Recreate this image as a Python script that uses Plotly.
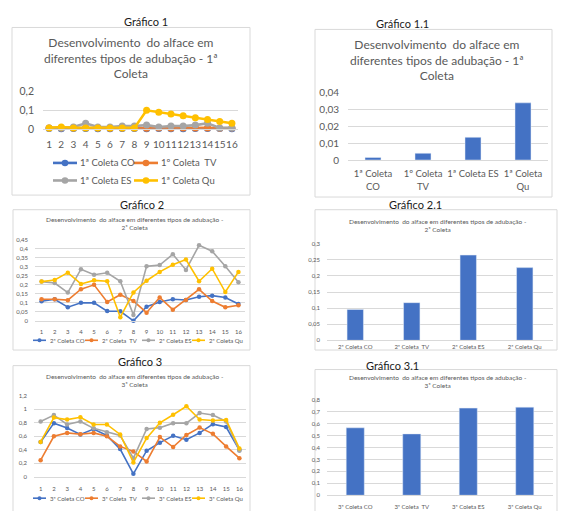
import plotly.graph_objects as go

W, H = 565, 511

# ---------------- data ----------------
points = [str(i) for i in range(1, 17)]

c1_co = [0.002, 0.001, 0.002, 0.002, 0.001, 0.001, 0.002, 0.002, 0.001, 0.002, 0.001, 0.0, 0.002, 0.002, 0.002, 0.001]
c1_tv = [0.004, 0.005, 0.004, 0.006, 0.004, 0.003, 0.004, 0.004, 0.003, 0.004, 0.003, 0.004, 0.005, 0.005, 0.003, 0.004]
c1_es = [0.005, 0.005, 0.01, 0.03, 0.01, 0.01, 0.015, 0.015, 0.02, 0.01, 0.015, 0.015, 0.02, 0.03, 0.005, 0.005]
c1_qu = [0.005, 0.01, 0.005, 0.005, 0.005, 0.005, 0.005, 0.005, 0.1, 0.09, 0.08, 0.07, 0.06, 0.05, 0.04, 0.03]

c2_co = [0.109, 0.12, 0.076, 0.1, 0.1, 0.054, 0.053, 0.0, 0.078, 0.105, 0.12, 0.116, 0.134, 0.14, 0.13, 0.094]
c2_tv = [0.12, 0.12, 0.115, 0.176, 0.2, 0.105, 0.145, 0.11, 0.045, 0.13, 0.062, 0.116, 0.175, 0.11, 0.075, 0.087]
c2_es = [0.218, 0.21, 0.157, 0.287, 0.256, 0.267, 0.22, 0.033, 0.303, 0.31, 0.37, 0.283, 0.42, 0.387, 0.303, 0.214]
c2_qu = [0.218, 0.227, 0.268, 0.205, 0.225, 0.22, 0.02, 0.158, 0.223, 0.272, 0.312, 0.341, 0.22, 0.29, 0.16, 0.272]

c3_co = [0.516, 0.795, 0.723, 0.627, 0.708, 0.612, 0.41, 0.043, 0.386, 0.506, 0.607, 0.55, 0.65, 0.78, 0.737, 0.395]
c3_tv = [0.246, 0.6, 0.65, 0.63, 0.65, 0.6, 0.45, 0.376, 0.227, 0.588, 0.44, 0.62, 0.73, 0.636, 0.45, 0.275]
c3_es = [0.82, 0.915, 0.776, 0.82, 0.718, 0.66, 0.612, 0.275, 0.708, 0.728, 0.795, 0.795, 0.945, 0.915, 0.82, 0.386]
c3_qu = [0.516, 0.877, 0.848, 0.882, 0.776, 0.776, 0.627, 0.212, 0.573, 0.8, 0.92, 1.046, 0.848, 0.834, 0.843, 0.42]

b1_labels = ["1ª Coleta<br>CO", "1º Coleta<br>TV", "1ª Coleta ES", "1ª Coleta<br>Qu"]
b1_values = [0.0015, 0.004, 0.0135, 0.034]
b2_labels = ["2ª Coleta CO", "2ª Coleta  TV", "2ª Coleta ES", "2ª Coleta Qu"]
b2_values = [0.096, 0.117, 0.265, 0.226]
b3_labels = ["3ª Coleta CO", "3ª Coleta  TV", "3ª Coleta ES", "3ª Coleta Qu"]
b3_values = [0.565, 0.514, 0.73, 0.738]

series1_names = ["1ª Coleta CO", "1º Coleta  TV", "1ª Coleta ES", "1ª Coleta Qu"]
series2_names = ["2ª Coleta CO", "2ª Coleta  TV", "2ª Coleta ES", "2ª Coleta Qu"]
series3_names = ["3ª Coleta CO", "3ª Coleta  TV", "3ª Coleta ES", "3ª Coleta Qu"]

colors = ["#4472C4", "#ED7D31", "#A5A5A5", "#FFC000"]
BAR = "#4472C4"
GRID = "#d9d9d9"
TXT = "#595959"
FONT = "Lato"


def fx(x):
    return x / W


def fy(y):
    return 1 - y / H


fig = go.Figure()

# ---------------- line charts ----------------
line_sets = [
    ("x", "y", [c1_co, c1_tv, c1_es, c1_qu], series1_names, 2.6, 7),
    ("x3", "y3", [c2_co, c2_tv, c2_es, c2_qu], series2_names, 1.6, 4.5),
    ("x5", "y5", [c3_co, c3_tv, c3_es, c3_qu], series3_names, 1.6, 4.5),
]
for xa, ya, sers, names, lw, ms in line_sets:
    for vals, name, col in zip(sers, names, colors):
        fig.add_trace(go.Scatter(
            x=points, y=vals, name=name, mode="lines+markers",
            line=dict(color=col, width=lw), marker=dict(color=col, size=ms),
            xaxis=xa, yaxis=ya, showlegend=False, cliponaxis=False))

# ---------------- bar charts ----------------
for xa, ya, labs, vals, wd in [("x2", "y2", b1_labels, b1_values, 0.32),
                               ("x4", "y4", b2_labels, b2_values, 0.29),
                               ("x6", "y6", b3_labels, b3_values, 0.32)]:
    fig.add_trace(go.Bar(x=labs, y=vals, marker_color=BAR, width=wd,
                         xaxis=xa, yaxis=ya, showlegend=False))

# ---------------- axes ----------------
# (x0, x1, ytop, ybottom) in pixels, y range, dtick, font sizes, x-label standoff
axes_specs = [
    (43, 238, 87, 125, [0, 0.2], 0.1, 10.5, 10, points, 6),
    (348, 548, 88, 157, [0, 0.04], 0.01, 10, 9.5, b1_labels, 5),
    (35, 245, 239, 322, [0, 0.45], 0.05, 6, 6, points, 5),
    (327, 553, 243, 342, [0, 0.3], 0.05, 6, 6, b2_labels, 1),
    (34, 246, 399, 482, [0, 1.2], 0.2, 6, 6, points, 6),
    (327, 553, 403, 501, [0, 0.8], 0.1, 6, 6, b3_labels, 6),
]
for i, (x0, x1, yt, yb, yr, dt, yfs, xfs, cats, so) in enumerate(axes_specs):
    n = "" if i == 0 else str(i + 1)
    fig.layout["xaxis" + n] = dict(
        domain=[fx(x0), fx(x1)], anchor="y" + n, type="category",
        categoryorder="array", categoryarray=cats,
        range=[-0.5, len(cats) - 0.5],
        tickmode="linear", tick0=0, dtick=1, tickangle=0,
        showgrid=False, showline=True, linecolor=GRID, linewidth=1,
        ticks="", tickfont=dict(family=FONT, size=xfs, color=TXT),
        ticklabelstandoff=so, fixedrange=True)
    fig.layout["yaxis" + n] = dict(
        domain=[fy(yb), fy(yt)], anchor="x" + n, range=yr, dtick=dt,
        showgrid=True, gridcolor=GRID, gridwidth=1, zeroline=False,
        showline=False, ticks="",
        tickfont=dict(family=FONT, size=yfs, color=TXT),
        ticklabelstandoff=8 if yfs > 8 else 6, fixedrange=True)

# ---------------- panel boxes ----------------
boxes = [(12, 21, 250, 193), (315, 23, 552, 195), (13, 208, 250, 352),
         (315, 208, 557, 352), (13, 368, 250, 520), (315, 372, 557, 520)]
shapes = []
for (a, b, c, d) in boxes:
    shapes.append(dict(type="rect", xref="paper", yref="paper",
                       x0=fx(a), x1=fx(c), y0=fy(d), y1=fy(b),
                       line=dict(color=GRID, width=1), fillcolor="rgba(0,0,0,0)",
                       layer="below"))

annotations = []


def text(x, y, s, size, color=TXT, xanchor="center"):
    annotations.append(dict(x=fx(x), y=fy(y), xref="paper", yref="paper",
                            text=s, showarrow=False, xanchor=xanchor,
                            yanchor="middle",
                            font=dict(family=FONT, size=size, color=color)))


# panel headings
HEAD = "#1a1a1a"
text(146, 15, "Gráfico 1", 11, HEAD)
text(402, 17, "Gráfico 1.1", 11, HEAD)
text(142, 203, "Gráfico 2", 11, HEAD)
text(415, 203, "Gráfico 2.1", 11, HEAD)
text(140, 364, "Gráfico 3", 11, HEAD)
text(393, 368, "Gráfico 3.1", 11, HEAD)

# chart titles
text(131, 52, "Desenvolvimento  do alface em<br>diferentes tipos de adubação - 1ª<br>Coleta", 12)
text(437, 54, "Desenvolvimento  do alface em<br>diferentes tipos de adubação - 1ª<br>Coleta", 12)
text(135, 222.5, "Desenvolvimento  do alface em diferentes tipos de adubação -<br>2ª Coleta", 6.5)
text(438, 224, "Desenvolvimento  do alface em diferentes tipos de adubação -<br>2ª Coleta", 6.5)
text(135, 383, "Desenvolvimento  do alface em diferentes tipos de adubação -<br>3ª Coleta", 6.5)
text(438, 384.5, "Desenvolvimento  do alface em diferentes tipos de adubação -<br>3ª Coleta", 6.5)


# legends (key line + marker + label)
def legend_item(x0, x1, y, col, label, lw, r, fs, tx):
    shapes.append(dict(type="line", xref="paper", yref="paper",
                       x0=fx(x0), x1=fx(x1), y0=fy(y), y1=fy(y),
                       line=dict(color=col, width=lw)))
    cx = (x0 + x1) / 2
    shapes.append(dict(type="circle", xref="paper", yref="paper",
                       x0=fx(cx - r), x1=fx(cx + r), y0=fy(y + r), y1=fy(y - r),
                       line=dict(color=col, width=0), fillcolor=col))
    text(tx, y, label, fs, xanchor="left")


leg1 = [(53, 77, 160, 78), (134, 158, 160, 159), (53, 77, 178, 78), (134, 158, 178, 159)]
for (a, b, y, t), col, nm in zip(leg1, colors, series1_names):
    legend_item(a, b, y, col, nm, 2.6, 3.3, 9.5, t)
leg_small = [(33, 46, 48), (85, 98, 100), (142, 155, 157), (192, 205, 207)]
for (a, b, t), col, nm in zip(leg_small, colors, series2_names):
    legend_item(a, b, 342, col, nm, 1.6, 2, 6, t)
for (a, b, t), col, nm in zip(leg_small, colors, series3_names):
    legend_item(a, b, 504, col, nm, 1.6, 2, 6, t)

fig.update_layout(
    width=W, height=H, margin=dict(l=0, r=0, t=0, b=0),
    paper_bgcolor="white", plot_bgcolor="white",
    separators=",.", showlegend=False,
    shapes=shapes, annotations=annotations,
    font=dict(family=FONT, color=TXT),
)

fig.write_html("out.html")
